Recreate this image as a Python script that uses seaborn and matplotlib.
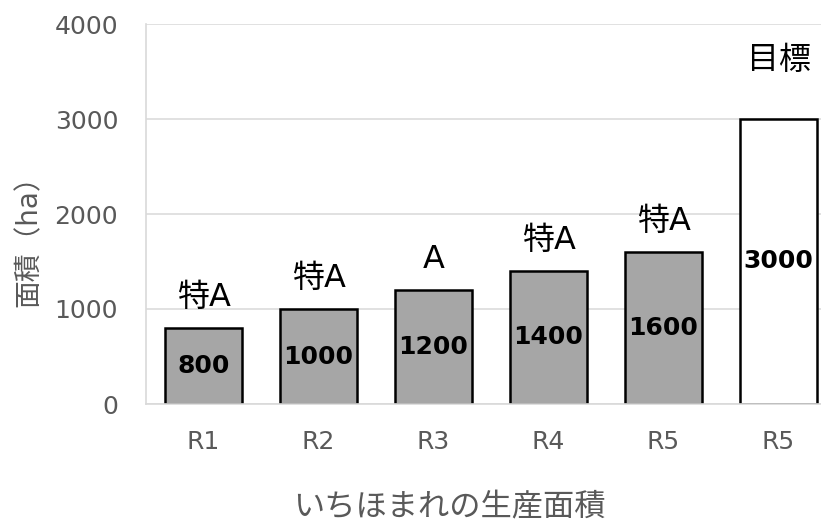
import matplotlib
matplotlib.use("Agg")
import matplotlib.pyplot as plt
import seaborn as sns
import pandas as pd

# ---- data ----
tick_labels = ["R1", "R2", "R3", "R4", "R5", "R5"]
values = [800, 1000, 1200, 1400, 1600, 3000]
kinds = ["実績", "実績", "実績", "実績", "実績", "目標"]
grades = ["特A", "特A", "A", "特A", "特A", "目標"]
y_ticks = [0, 1000, 2000, 3000, 4000]
x_title = "いちほまれの生産面積"
y_title = "面積（ha）"

sns.set_theme(style="white")
plt.rcParams["font.family"] = ["DejaVu Sans", "Noto Sans CJK JP"]

df = pd.DataFrame({"pos": list(range(len(values))), "value": values, "kind": kinds})

fig = plt.figure(figsize=(8.21, 5.26), dpi=100)
ax = fig.add_axes([146 / 821, 122 / 526, 690 / 821, 380 / 526])

sns.barplot(data=df, x="pos", y="value", hue="kind",
            palette={"実績": "#a6a6a6", "目標": "#ffffff"},
            dodge=False, width=0.67, edgecolor="black", linewidth=1.8,
            legend=False, ax=ax, zorder=3)

ax.set_xlim(-0.5, len(values) - 0.5)
ax.set_ylim(0, 4000)
ax.set_yticks(y_ticks)
ax.set_yticklabels([str(t) for t in y_ticks])
ax.set_xticks(range(len(tick_labels)))
ax.set_xticklabels(tick_labels)
ax.tick_params(axis="both", length=0, labelsize=18, labelcolor="#595959")
ax.tick_params(axis="y", pad=20)
ax.tick_params(axis="x", pad=19)

ax.grid(axis="y", color="#d9d9d9", linewidth=1.1, zorder=0)
ax.grid(axis="x", visible=False)
for s in ["top", "right"]:
    ax.spines[s].set_visible(False)
for s in ["left", "bottom"]:
    ax.spines[s].set_color("#d9d9d9")
    ax.spines[s].set_linewidth(1.2)
ax.spines["bottom"].set_zorder(4)

ax.set_xlabel("")
ax.set_ylabel("")

# value labels inside and grade labels above bars
for patch in ax.patches:
    h = patch.get_height()
    if h <= 0:
        continue
    cx = patch.get_x() + patch.get_width() / 2
    i = int(round(cx))
    ax.text(cx, h / 2, f"{values[i]}", ha="center", va="center",
            fontsize=18, fontweight="bold", color="black", zorder=5)
    off = 42 if kinds[i] == "目標" else 22
    ax.annotate(grades[i], xy=(cx, h), xytext=(0, off), textcoords="offset points",
                ha="center", va="center", fontsize=23, color="black", zorder=5)

fig.text(449 / 821, 1 - 508 / 526, x_title, ha="center", va="center",
         fontsize=22.5, color="#595959")
fig.text(29 / 821, 1 - 234 / 526, y_title, ha="center", va="center",
         rotation=90, fontsize=20, color="#595959")

fig.savefig("out.png", dpi=100)
